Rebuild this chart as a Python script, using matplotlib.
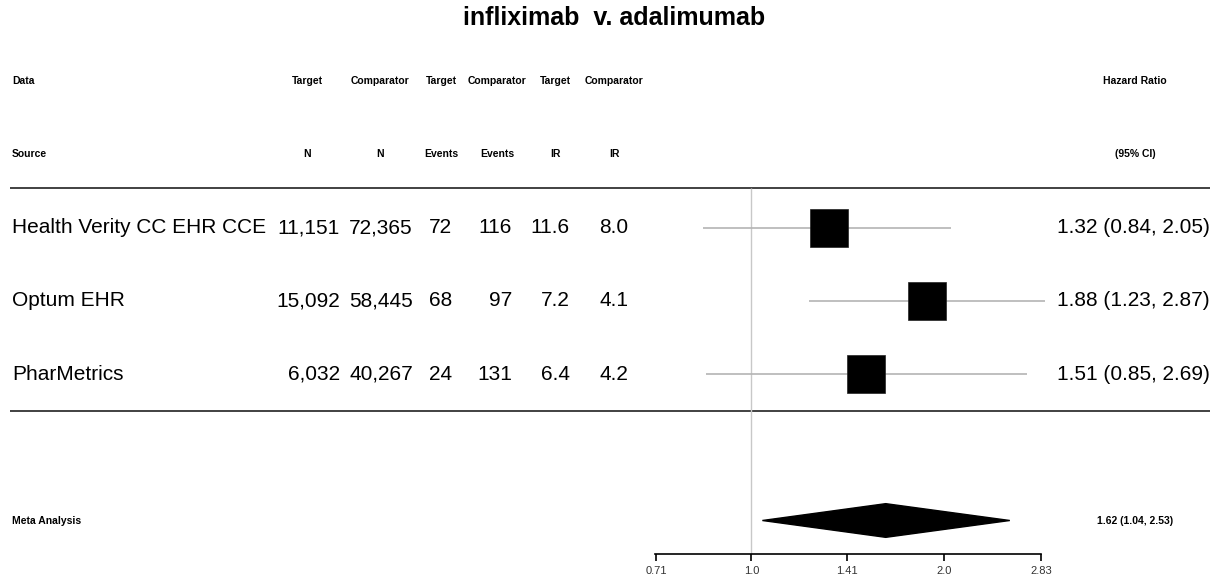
import matplotlib
matplotlib.use("Agg")
import matplotlib.pyplot as plt
import numpy as np

plt.rcParams['font.family'] = ['Liberation Sans', 'DejaVu Sans']

title = "infliximab  v. adalimumab"
sources = ["Health Verity CC EHR CCE", "Optum EHR", "PharMetrics"]
target_n = ["11,151", "15,092", "6,032"]
comparator_n = ["72,365", "58,445", "40,267"]
target_events = ["72", "68", "24"]
comparator_events = ["116", "97", "131"]
target_ir = ["11.6", "7.2", "6.4"]
comparator_ir = ["8.0", "4.1", "4.2"]
hr = [1.32, 1.88, 1.51]
hr_lo = [0.84, 1.23, 0.85]
hr_hi = [2.05, 2.87, 2.69]
meta_label = "Meta Analysis"
meta_hr, meta_lo, meta_hi = 1.62, 1.04, 2.53
header_top = ["Target", "Comparator", "Target", "Comparator", "Target", "Comparator"]
header_bot = ["N", "N", "Events", "Events", "IR", "IR"]
xticks = [0.71, 1.0, 1.41, 2.0, 2.83]
xtick_labels = ["0.71", "1.0", "1.41", "2.0", "2.83"]

W, H = 1219, 581
fig = plt.figure(figsize=(W / 100, H / 100), dpi=100)

# row mapping: row r at pixel y = 81 + 73.25*r
def row_lim(top_px, bot_px):
    return ((bot_px - 81) / 73.25, (top_px - 81) / 73.25)

# background axis for table text (x in pixel layout units, y in row units)
bg = fig.add_axes([0, 0, 1, 1])
bg.set_xlim(0, W)
bg.set_ylim(*row_lim(0, H))
bg.axis('off')

fig.text(614 / W, 1 - 18 / H, title, ha='center', va='center', fontsize=18, fontweight='bold')

hdr_fs = 7.5
bg.text(12, 0, "Data", ha='left', va='center', fontsize=hdr_fs, fontweight='bold')
bg.text(12, 1, "Source", ha='left', va='center', fontsize=hdr_fs, fontweight='bold')
hdr_x = [307, 380, 441, 497, 555, 614]
for x, t, b in zip(hdr_x, header_top, header_bot):
    bg.text(x, 0, t, ha='center', va='center', fontsize=hdr_fs, fontweight='bold')
    bg.text(x, 1, b, ha='center', va='center', fontsize=hdr_fs, fontweight='bold')
bg.text(1135, 0, "Hazard Ratio", ha='center', va='center', fontsize=hdr_fs, fontweight='bold')
bg.text(1135, 1, "(95% CI)", ha='center', va='center', fontsize=hdr_fs, fontweight='bold')

row_fs = 15
col_right = [340, 413, 452, 512, 570, 628]
cols = [target_n, comparator_n, target_events, comparator_events, target_ir, comparator_ir]
for i, s in enumerate(sources):
    r = 2 + i
    bg.text(12, r, s, ha='left', va='center', fontsize=row_fs)
    for x, col in zip(col_right, cols):
        bg.text(x, r, col[i], ha='right', va='center', fontsize=row_fs)
    bg.text(1210, r, f"{hr[i]:.2f} ({hr_lo[i]:.2f}, {hr_hi[i]:.2f})",
            ha='right', va='center', fontsize=row_fs)

meta_row = 6
bg.text(12, meta_row, meta_label, ha='left', va='center', fontsize=hdr_fs, fontweight='bold')
bg.text(1135, meta_row, f"{meta_hr:.2f} ({meta_lo:.2f}, {meta_hi:.2f})",
        ha='center', va='center', fontsize=hdr_fs, fontweight='bold')

for yy in (1.46, 4.5):
    bg.plot([10, 1210], [yy, yy], color='#333333', lw=1.3, solid_capstyle='butt')

# forest axis
x0, x1 = 655, 1041
ax = fig.add_axes([x0 / W, (H - 554) / H, (x1 - x0) / W, (554 - 44) / H])
ax.set_xscale('log', base=2)
ax.set_xlim(2 ** -0.5, 2 ** 1.5)
ax.set_ylim(*row_lim(44, 554))
ax.patch.set_alpha(0)
for sp in ('top', 'right', 'left'):
    ax.spines[sp].set_visible(False)
ax.spines['bottom'].set_linewidth(1.2)
ax.set_yticks([])
ax.set_xticks(xticks)
ax.set_xticklabels(xtick_labels, fontsize=8, color='#333333')
ax.xaxis.set_minor_locator(matplotlib.ticker.NullLocator())
ax.tick_params(axis='x', length=5, width=1.2, pad=4)

ax.vlines(1.0, 1.46, row_lim(44, 554)[0], color='#c8c8c8', lw=1.0, zorder=1)
rows = np.arange(len(hr)) + 2
ax.hlines(rows, hr_lo, hr_hi, color='#b4b4b4', lw=1.2, zorder=2, clip_on=False)
ax.plot(hr, rows, 's', color='black', markersize=27.5, markeredgecolor='#222222',
        markeredgewidth=0.5, zorder=3, clip_on=False)

h = 0.23
ax.fill([meta_lo, meta_hr, meta_hi, meta_hr], [meta_row, meta_row - h, meta_row, meta_row + h],
        color='black', zorder=3, clip_on=False)

fig.savefig("out.png", dpi=100)
